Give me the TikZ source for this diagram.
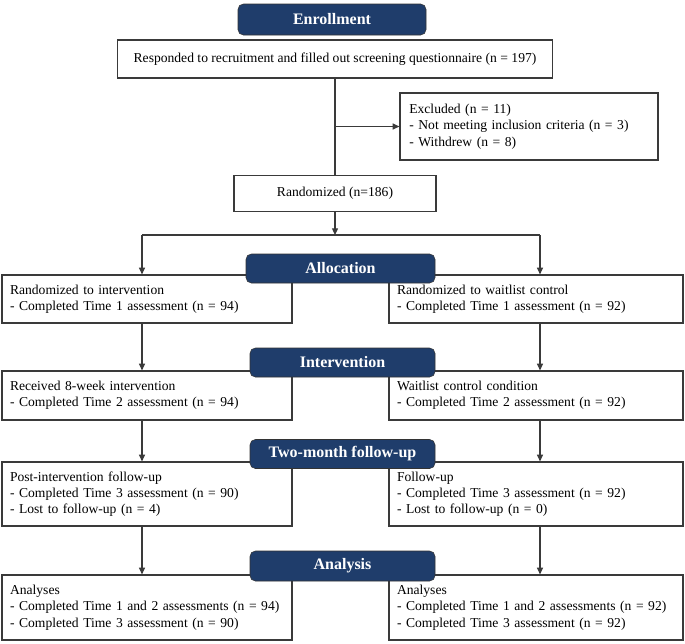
\documentclass[tikz,border=0pt]{standalone}
\usepackage{fontspec}
\setmainfont{Liberation Serif}
\usetikzlibrary{arrows.meta}
\definecolor{barblue}{HTML}{1F3D6B}
\definecolor{linegray}{HTML}{3A3A3A}

\begin{document}
\begin{tikzpicture}[x=0.75pt,y=-0.75pt,
    >={Triangle[length=5pt,width=4.5pt]},
    every edge/.style={draw=linegray,line width=0.9pt},
    box/.style={draw=linegray,fill=white,line width=0.9pt,
      font=\fontsize{10.2}{12.2}\selectfont,inner xsep=6pt,inner ysep=2pt},
    lcol/.style={box,align=left,text width=205.5pt},
    rcol/.style={box,align=left,text width=208.5pt},
    bar/.style={draw=black!80,fill=barblue,rounded corners=4pt,text=white,
      font=\fontsize{12}{14}\selectfont\bfseries,minimum width=138.75pt,
      minimum height=21.75pt,inner sep=0pt}]
    \useasboundingbox (0,0) rectangle (685,643);

    % enrollment
    \node[box,minimum width=326.25pt,minimum height=28.5pt] (screen) at (335,59)
      {Responded to recruitment and filled out screening questionnaire (n = 197)};
    \node[box,align=left,text width=179.5pt,minimum height=50.25pt,inner xsep=7pt] (excl) at (529,126.5)
      {Excluded (n = 11)\\- Not meeting inclusion criteria (n = 3)\\- Withdrew (n = 8)};
    \node[box,minimum width=151.5pt,minimum height=27pt] (rand) at (335,193.5) {Randomized (n=186)};
    \coordinate (branch) at (335,126.5);
    \coordinate (split) at (335,235);
    \coordinate (colL) at (142,235);
    \coordinate (colR) at (540,235);

    % two arms
    \node[lcol,minimum height=36pt] (int1) at (147,299)
      {Randomized to intervention\\- Completed Time 1 assessment (n = 94)};
    \node[rcol,minimum height=36pt] (wait1) at (536,299)
      {Randomized to waitlist control\\- Completed Time 1 assessment (n = 92)};
    \node[lcol,minimum height=36.75pt] (int2) at (147,395.5)
      {Received 8-week intervention\\- Completed Time 2 assessment (n = 94)};
    \node[rcol,minimum height=36.75pt] (wait2) at (536,395.5)
      {Waitlist control condition\\- Completed Time 2 assessment (n = 92)};
    \node[lcol,minimum height=48pt] (int3) at (147,494)
      {Post-intervention follow-up\\- Completed Time 3 assessment (n = 90)\\- Lost to follow-up (n = 4)};
    \node[rcol,minimum height=48pt] (wait3) at (536,494)
      {Follow-up\\- Completed Time 3 assessment (n = 92)\\- Lost to follow-up (n = 0)};
    \node[lcol,minimum height=48.75pt] (int4) at (147,607.5)
      {Analyses\\- Completed Time 1 and 2 assessments (n = 94)\\- Completed Time 3 assessment (n = 90)};
    \node[rcol,minimum height=48.75pt] (wait4) at (536,607.5)
      {Analyses\\- Completed Time 1 and 2 assessments (n = 92)\\- Completed Time 3 assessment (n = 92)};

    \path (screen) edge (rand)
      (branch) edge[->] (excl)
      (rand) edge[->] (split)
      (colL) edge (colR)
      (colL) edge[->] (colL |- int1.north)
      (colR) edge[->] (colR |- wait1.north)
      (int1.south -| colL) edge[->] (int2.north -| colL)
      (int2.south -| colL) edge[->] (int3.north -| colL)
      (int3.south -| colL) edge[->] (int4.north -| colL)
      (wait1.south -| colR) edge[->] (wait2.north -| colR)
      (wait2.south -| colR) edge[->] (wait3.north -| colR)
      (wait3.south -| colR) edge[->] (wait4.north -| colR);

    % stage headers
    \node[bar,minimum height=23.25pt,minimum width=141pt] (enroll) at (332,19.5) {Enrollment};
    \node[bar,minimum width=141.75pt] (alloc) at (340.5,268.5) {Allocation};
    \node[bar] (interv) at (342.5,362.5) {Intervention};
    \node[bar] (follow) at (342.5,454) {Two-month follow-up};
    \node[bar,minimum height=22.5pt] (anal) at (342.5,566) {Analysis};
  \end{tikzpicture}
\end{document}
